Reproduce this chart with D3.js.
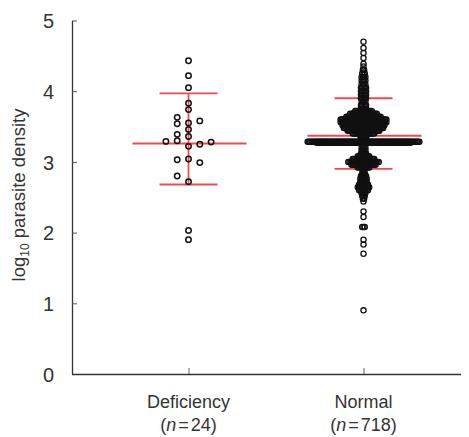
<!DOCTYPE html>
<html>
<head>
<meta charset="utf-8">
<script src="https://cdn.jsdelivr.net/npm/d3@7"></script>
<style>
body { margin: 0; background: #fff; }
svg text { font-family: "Liberation Sans", Arial, Helvetica, sans-serif; fill: #333; }
</style>
</head>
<body>
<script>
"use strict";

var groups = ["Deficiency", "Normal"];
var groupN = [24, 718];
var yTicks = [0, 1, 2, 3, 4, 5];

// log10 parasite density, deficiency group (one value per patient)
var deficiencyValues = [4.43, 4.22, 4.05, 3.83, 3.74, 3.55, 3.46, 3.36, 3.22, 3.04, 2.72, 2.03, 1.90,
  3.63, 3.54, 3.39, 3.30, 3.03, 3.58, 3.25, 2.99, 2.80, 3.29, 3.28];

// normal group, read as [value, patients at about that value]
var normalValues = [
  [4.70, 1], [4.61, 1], [4.54, 1], [4.47, 1],
  [4.39, 1], [4.35, 1], [4.30, 2], [4.25, 3], [4.20, 4], [4.15, 4], [4.10, 4], [4.05, 5],
  [4.00, 5], [3.95, 5], [3.90, 5], [3.85, 4], [3.80, 5], [3.75, 5], [3.72, 14], [3.68, 22],
  [3.64, 28], [3.60, 37], [3.56, 37], [3.52, 34], [3.48, 32], [3.44, 26], [3.40, 18],
  [3.37, 6], [3.34, 5], [3.285, 89], [3.28, 75], [3.27, 75], [3.20, 4], [3.16, 4], [3.12, 5],
  [3.08, 10], [3.04, 18], [3.00, 25], [2.96, 20], [2.92, 10], [2.88, 2], [2.84, 3], [2.80, 5],
  [2.76, 6], [2.72, 6], [2.68, 8], [2.64, 10], [2.60, 8], [2.56, 4], [2.52, 3], [2.48, 2],
  [2.44, 1], [2.30, 1], [2.22, 1], [2.08, 3], [1.90, 1], [1.83, 1], [1.70, 1], [0.90, 1]
];

// mean and +/- SD as drawn
var groupMean = [3.26, 3.37];
var groupUpper = [3.97, 3.90];
var groupLower = [2.68, 2.90];

var width = 469, height = 437;
var axisLeftX = 72, axisRightX = 461;

var svg = d3.select('body').append('svg')
  .attr('width', width)
  .attr('height', height);

var y = d3.scaleLinear().domain([0, 5]).range([374, 20.5]);
var x = d3.scalePoint().domain(groups).range([188.5, 363.5]);

// y axis
var yAxisG = svg.append('g')
  .attr('transform', 'translate(' + axisLeftX + ',0)')
  .call(d3.axisLeft(y).tickValues(yTicks).tickFormat(d3.format('d'))
    .tickSizeInner(-5).tickSizeOuter(0).tickPadding(18));
yAxisG.selectAll('text').style('font-size', '20px').attr('dy', '0.36em');
yAxisG.select('.domain').attr('stroke', '#333').attr('stroke-width', 1.3);
yAxisG.selectAll('.tick line').attr('stroke', '#555');

// x axis
var xAxisG = svg.append('g')
  .attr('transform', 'translate(0,374)')
  .call(d3.axisBottom(x).tickSizeInner(-6).tickSizeOuter(0).tickFormat(''));
xAxisG.select('.domain').remove();
xAxisG.selectAll('.tick line').attr('stroke', '#888').attr('stroke-width', 1.3);
svg.append('line')
  .attr('x1', axisLeftX).attr('x2', axisRightX)
  .attr('y1', 374.5).attr('y2', 374.5)
  .attr('stroke', '#333').attr('stroke-width', 1.3);

// category labels
groups.forEach(function(g, i) {
  svg.append('text')
    .attr('x', x(g)).attr('y', 408)
    .attr('text-anchor', 'middle')
    .style('font-size', '18px')
    .text(g);
  var t = svg.append('text')
    .attr('x', x(g)).attr('y', 431)
    .attr('text-anchor', 'middle')
    .style('font-size', '18px');
  t.append('tspan').text('(');
  t.append('tspan').style('font-style', 'italic').text('n');
  t.append('tspan').attr('dx', 2).text('=');
  t.append('tspan').attr('dx', 2).text(groupN[i] + ')');
});

// y title
var title = svg.append('text')
  .attr('transform', 'translate(25,195) rotate(-90)')
  .attr('text-anchor', 'middle')
  .style('font-size', '18.5px');
title.append('tspan').text('log');
title.append('tspan').attr('dy', 4).style('font-size', '12px').text('10');
title.append('tspan').attr('dy', -4).text(' parasite density');

// mean and SD bars (drawn under the points)
var red = '#ee4a4f';
var bars = svg.append('g').attr('stroke', red).attr('stroke-width', 1.8);
groups.forEach(function(g, i) {
  var cx = x(g);
  bars.append('line').attr('x1', cx).attr('x2', cx)
    .attr('y1', y(groupUpper[i])).attr('y2', y(groupLower[i]));
  bars.append('line').attr('x1', cx - 29).attr('x2', cx + 29)
    .attr('y1', y(groupUpper[i])).attr('y2', y(groupUpper[i]));
  bars.append('line').attr('x1', cx - 29).attr('x2', cx + 29)
    .attr('y1', y(groupLower[i])).attr('y2', y(groupLower[i]));
  bars.append('line').attr('x1', cx - 56).attr('x2', cx + 58)
    .attr('y1', y(groupMean[i])).attr('y2', y(groupMean[i]));
});

// deficiency points: simple column swarm
var slotStep = 11.3;
var placed = [];
var defPoints = deficiencyValues.map(function(v) {
  var py = y(v);
  var slots = [0, -1, 1, -2, 2, -3, 3];
  for (var k = 0; k < slots.length; k++) {
    var s = slots[k];
    var hit = placed.some(function(p) { return p.s === s && Math.abs(p.y - py) < 6; });
    if (!hit) {
      placed.push({s: s, y: py});
      return {x: x('Deficiency') + s * slotStep, y: py};
    }
  }
});

// normal points: each value row spread sideways
var rowStep = 1.27;
var normPoints = [];
normalValues.forEach(function(d) {
  for (var i = 0; i < d[1]; i++) {
    normPoints.push({x: x('Normal') + (i - (d[1] - 1) / 2) * rowStep, y: y(d[0])});
  }
});

svg.append('g')
  .selectAll('circle')
  .data(defPoints)
  .enter().append('circle')
  .attr('cx', function(d) { return d.x; })
  .attr('cy', function(d) { return d.y; })
  .attr('r', 2.7)
  .attr('fill', 'none')
  .attr('stroke', '#111')
  .attr('stroke-width', 1.5);

svg.append('g')
  .selectAll('circle')
  .data(normPoints)
  .enter().append('circle')
  .attr('cx', function(d) { return d.x; })
  .attr('cy', function(d) { return d.y; })
  .attr('r', 2.6)
  .attr('fill', 'none')
  .attr('stroke', '#111')
  .attr('stroke-width', 1.3);
</script>
</body>
</html>
